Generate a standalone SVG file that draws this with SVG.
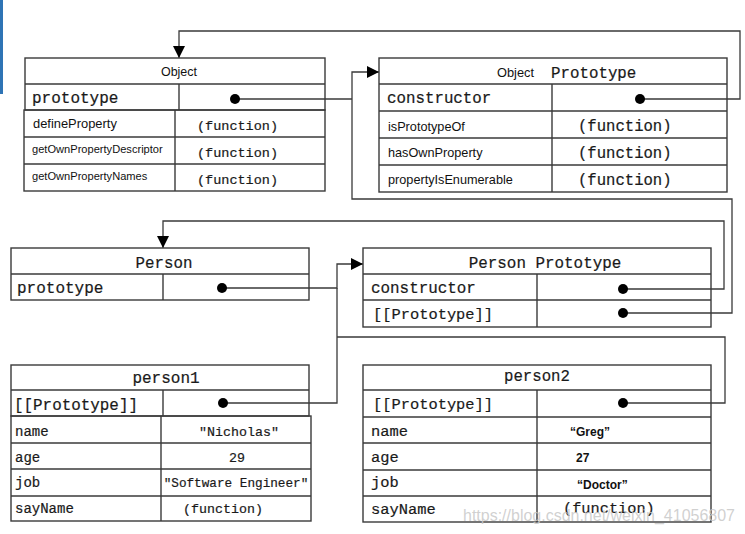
<svg xmlns="http://www.w3.org/2000/svg" width="745" height="534" viewBox="0 0 745 534">
<style>
.box{fill:none;stroke:#3a3a3a;stroke-width:1.4}
.ln{fill:none;stroke:#3a3a3a;stroke-width:1.3}
.mono{font-family:"Liberation Mono","Courier New",monospace;fill:#1a1a1a;stroke:#1a1a1a;stroke-width:0.2}
.sans{font-family:"Liberation Sans",Arial,sans-serif;fill:#111}
.sb{font-family:"Liberation Sans",Arial,sans-serif;font-weight:bold;fill:#111}
.dot{fill:#000}
.mid{text-anchor:middle}
</style>
<defs>
<marker id="ah" viewBox="0 0 12 12" refX="12" refY="6" markerWidth="12" markerHeight="12" markerUnits="userSpaceOnUse" orient="auto">
<path d="M0,0 L12,6 L0,12 z" fill="#000"/>
</marker>
</defs>
<rect x="0" y="0" width="3" height="94" fill="#2e74b5"/>

<g id="connectors">
<path class="ln" d="M640,99 H740 V31 H179 V58" marker-end="url(#ah)"/>
<path class="ln" d="M235,99 H352"/>
<path class="ln" d="M623,313 H732 V199 H352 V72 H379" marker-end="url(#ah)"/>
<path class="ln" d="M623,289 H724 V221 H163 V248" marker-end="url(#ah)"/>
<path class="ln" d="M222,288 H337 V264 H363" marker-end="url(#ah)"/>
<path class="ln" d="M223,403 H337 V288"/>
<path class="ln" d="M623,403 H725 V337 H337"/>
<circle class="dot" cx="235" cy="99" r="5"/>
<circle class="dot" cx="640" cy="99" r="5"/>
<circle class="dot" cx="222" cy="288" r="5"/>
<circle class="dot" cx="623" cy="289" r="5"/>
<circle class="dot" cx="623" cy="313" r="5"/>
<circle class="dot" cx="223" cy="403" r="5"/>
<circle class="dot" cx="623" cy="403" r="5"/>
</g>

<g id="object">
<rect class="box" x="25" y="58" width="300" height="52"/>
<line class="box" x1="25" y1="84" x2="325" y2="84"/>
<line class="box" x1="179" y1="84" x2="179" y2="110"/>
<rect class="box" x="24" y="110" width="301" height="81"/>
<line class="box" x1="24" y1="137" x2="325" y2="137"/>
<line class="box" x1="24" y1="164" x2="325" y2="164"/>
<line class="box" x1="175" y1="110" x2="175" y2="191"/>
<text class="sans mid" x="179" y="76" font-size="12.5">Object</text>
<text class="mono" x="32" y="103" font-size="16">prototype</text>
<text class="sans" x="33" y="128" font-size="12.9">defineProperty</text>
<text class="sans" x="32" y="153" font-size="11.1">getOwnPropertyDescriptor</text>
<text class="sans" x="32" y="180" font-size="11.1">getOwnPropertyNames</text>
<text class="mono" x="197" y="130" font-size="13.5">(function)</text>
<text class="mono" x="197" y="157" font-size="13.5">(function)</text>
<text class="mono" x="197" y="184" font-size="13.5">(function)</text>
</g>

<g id="object-prototype">
<rect class="box" x="379" y="58" width="348" height="134"/>
<line class="box" x1="379" y1="84" x2="727" y2="84"/>
<line class="box" x1="379" y1="111" x2="727" y2="111"/>
<line class="box" x1="379" y1="138" x2="727" y2="138"/>
<line class="box" x1="379" y1="165" x2="727" y2="165"/>
<line class="box" x1="552" y1="84" x2="552" y2="192"/>
<text class="sans" x="497" y="77" font-size="12.8">Object</text>
<text class="mono" x="551" y="78" font-size="15.8">Prototype</text>
<text class="mono" x="387" y="103" font-size="15.8">constructor</text>
<text class="sans" x="388" y="131" font-size="12.7">isPrototypeOf</text>
<text class="sans" x="388" y="157" font-size="12.7">hasOwnProperty</text>
<text class="sans" x="388" y="184" font-size="12.7">propertyIsEnumerable</text>
<text class="mono" x="578" y="131" font-size="15.6">(function)</text>
<text class="mono" x="578" y="158" font-size="15.6">(function)</text>
<text class="mono" x="578" y="185" font-size="15.6">(function)</text>
</g>

<g id="person">
<rect class="box" x="11" y="248" width="298" height="52"/>
<line class="box" x1="11" y1="274" x2="309" y2="274"/>
<line class="box" x1="163" y1="274" x2="163" y2="300"/>
<text class="mono mid" x="164" y="268" font-size="15.8">Person</text>
<text class="mono" x="17" y="293" font-size="16">prototype</text>
</g>

<g id="person-prototype">
<rect class="box" x="363" y="248" width="348" height="79"/>
<line class="box" x1="363" y1="274" x2="711" y2="274"/>
<line class="box" x1="363" y1="300" x2="711" y2="300"/>
<line class="box" x1="537" y1="274" x2="537" y2="327"/>
<text class="mono mid" x="545" y="268" font-size="15.9">Person Prototype</text>
<text class="mono" x="371" y="293" font-size="15.9">constructor</text>
<text class="mono" x="373" y="319" font-size="15.4">[[Prototype]]</text>
</g>

<g id="person1">
<rect class="box" x="11" y="365" width="298" height="51"/>
<line class="box" x1="11" y1="390" x2="309" y2="390"/>
<line class="box" x1="163" y1="390" x2="163" y2="416"/>
<rect class="box" x="11" y="416" width="300" height="105"/>
<line class="box" x1="11" y1="443" x2="311" y2="443"/>
<line class="box" x1="11" y1="469" x2="311" y2="469"/>
<line class="box" x1="11" y1="496" x2="311" y2="496"/>
<line class="box" x1="161" y1="416" x2="161" y2="521"/>
<text class="mono mid" x="166" y="383" font-size="16">person1</text>
<text class="mono" x="14" y="410" font-size="15.9">[[Prototype]]</text>
<text class="mono" x="15" y="436" font-size="14">name</text>
<text class="mono" x="15" y="462" font-size="14">age</text>
<text class="mono" x="15" y="487" font-size="14">job</text>
<text class="mono" x="15" y="513" font-size="14">sayName</text>
<text class="mono mid" x="239" y="436" font-size="13.3">"Nicholas"</text>
<text class="mono mid" x="237" y="462" font-size="13.3">29</text>
<text class="mono mid" x="236" y="487" font-size="12.7">"Software Engineer"</text>
<text class="mono mid" x="223" y="513" font-size="13.3">(function)</text>
</g>

<g id="person2">
<rect class="box" x="363" y="365" width="348" height="157"/>
<line class="box" x1="363" y1="390" x2="711" y2="390"/>
<line class="box" x1="363" y1="417" x2="711" y2="417"/>
<line class="box" x1="363" y1="443" x2="711" y2="443"/>
<line class="box" x1="363" y1="470" x2="711" y2="470"/>
<line class="box" x1="363" y1="496" x2="711" y2="496"/>
<line class="box" x1="537" y1="390" x2="537" y2="522"/>
<text class="mono mid" x="537" y="381" font-size="15.7">person2</text>
<text class="mono" x="373" y="409" font-size="15.4">[[Prototype]]</text>
<text class="mono" x="371" y="436" font-size="15.4">name</text>
<text class="mono" x="371" y="462" font-size="15.4">age</text>
<text class="mono" x="371" y="487" font-size="15.4">job</text>
<text class="mono" x="371" y="514" font-size="15.4">sayName</text>
<text class="sb" x="570" y="436" font-size="12">“Greg”</text>
<text class="sb" x="576" y="462" font-size="12">27</text>
<text class="sb" x="577" y="489" font-size="12">“Doctor”</text>
<text class="mono" x="563" y="513" font-size="15.3">(function)</text>
</g>

<text x="463" y="521" font-family="Liberation Sans, Arial, sans-serif" font-size="17" fill="#c8c8c8" fill-opacity="0.85" textLength="272" lengthAdjust="spacingAndGlyphs">https://blog.csdn.net/weixin_41056807</text>
</svg>
